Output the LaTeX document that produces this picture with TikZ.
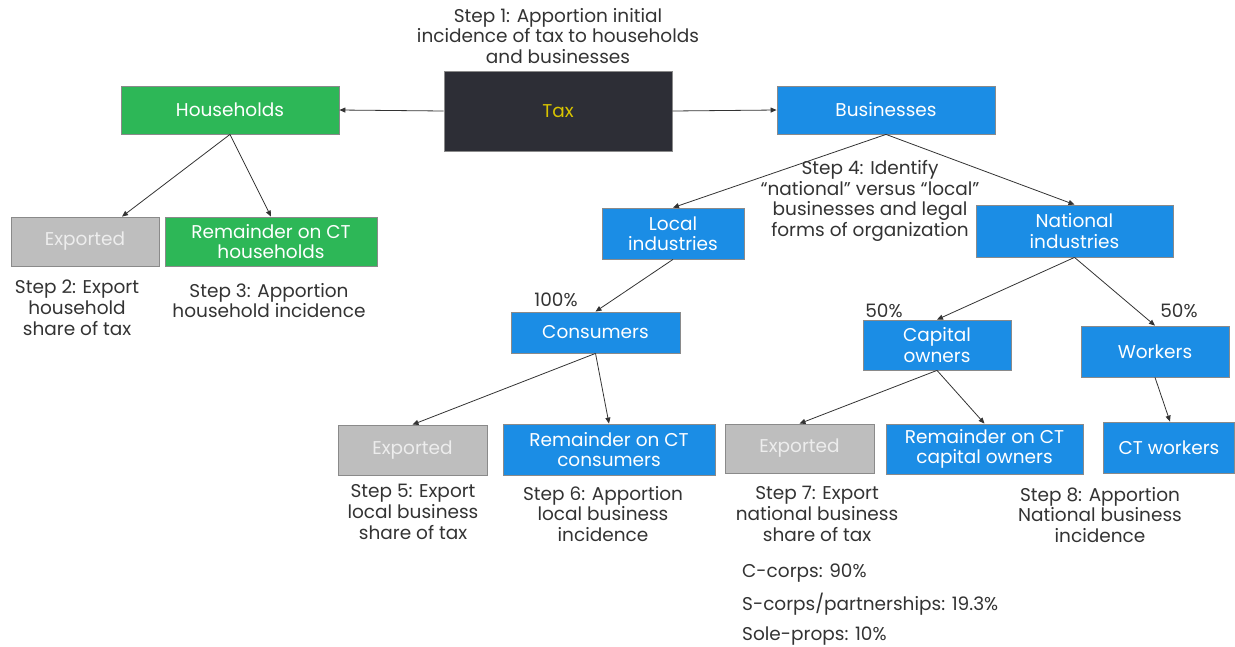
\documentclass[tikz,border=0pt]{standalone}
\usepackage{fontspec}
\setmainfont{Poppins}
\usetikzlibrary{arrows.meta}
\definecolor{cgreen}{HTML}{2DB757}
\definecolor{cblue}{HTML}{1B8DE5}
\definecolor{cgray}{HTML}{BEBEBE}
\definecolor{cdark}{HTML}{2D2E36}
\definecolor{cyel}{HTML}{D9C400}
\definecolor{ctext}{HTML}{333333}
\definecolor{cedge}{HTML}{8A8A8A}
\begin{document}
\begin{tikzpicture}[x=1pt,y=-1pt,
  sz/.style 2 args={minimum width=#1, minimum height=#2},
  box/.style={draw=cedge, line width=0.8pt, inner sep=0pt, align=center, text=white,
    font=\fontsize{18.5}{20.5}\selectfont},
  greenbox/.style={box, fill=cgreen},
  bluebox/.style={box, fill=cblue},
  graybox/.style={box, fill=cgray, text=white!93!black},
  lbl/.style={align=center, text=ctext, inner sep=0pt, font=\fontsize{18.5}{20.8}\selectfont},
  arr/.style={draw=ctext, line width=0.8pt, -{Triangle[length=6pt,width=5pt]}}]
\useasboundingbox (0,0) rectangle (1235,646);
% boxes
\node[box, fill=cdark, text=cyel, sz={228}{80}] (tax) at (558,111) {Tax};
\node[greenbox, sz={218}{48}] (hh) at (230,110) {Households};
\node[bluebox, sz={218}{48}] (bus) at (886,110) {Businesses};
\node[graybox, sz={148}{49}] (exh) at (85,241.5) {Exported};
\node[greenbox, sz={212}{49}] (remh) at (271,241.5) {Remainder on CT\\households};
\node[bluebox, sz={142}{51}] (loc) at (673,233.5) {Local\\industries};
\node[bluebox, sz={197}{52}] (nat) at (1074.5,231) {National\\industries};
\node[bluebox, sz={169}{41}] (cons) at (595.5,332.5) {Consumers};
\node[bluebox, sz={148}{50}] (cap) at (937,345) {Capital\\owners};
\node[bluebox, sz={148}{51}] (work) at (1155,351.5) {Workers};
\node[graybox, sz={149}{50}] (exc) at (412.5,450) {Exported};
\node[bluebox, sz={212}{51}] (remc) at (609,449.5) {Remainder on CT\\consumers};
\node[graybox, sz={149}{49}] (exn) at (799.5,448.5) {Exported};
\node[bluebox, sz={197}{50}] (remn) at (984.5,449) {Remainder on CT\\capital owners};
\node[bluebox, sz={131}{51}] (ctw) at (1169,447.5) {CT workers};
% labels
\node[lbl] (s1) at (558,36) {Step 1: Apportion initial\\incidence of tax to households\\and businesses};
\node[lbl] (s2) at (77,308) {Step 2: Export\\household\\share of tax};
\node[lbl] (s3) at (269,300.5) {Step 3: Apportion\\household incidence};
\node[lbl] (s4) at (870,201) {Step 4: Identify\\“national” versus “local”\\businesses and legal\\forms of organization};
\node[lbl] (s5) at (413,512) {Step 5: Export\\local business\\share of tax};
\node[lbl] (s6) at (603,514) {Step 6: Apportion\\local business\\incidence};
\node[lbl] (s7) at (817,514) {Step 7: Export\\national business\\share of tax};
\node[lbl] (s8) at (1100,515) {Step 8: Apportion\\National business\\incidence};
\node[lbl] (p100) at (556,300) {100\%};
\node[lbl] (p50a) at (884,311) {50\%};
\node[lbl] (p50b) at (1179,311) {50\%};
\node[lbl, anchor=west] (cc) at (742,573) {C-corps: 90\%};
\node[lbl, anchor=west] (sc) at (742,604) {S-corps/partnerships: 19.3\%};
\node[lbl, anchor=west] (sp) at (742,636) {Sole-props: 10\%};
% connectors
\draw[arr] (tax.west) -- (hh.east);
\draw[arr] (tax.east) -- (bus.west);
\draw[arr] (hh.south) -- ([xshift=37pt]exh.north);
\draw[arr] (hh.south) -- (remh.north);
\draw[arr] (bus.south) -- (loc.north);
\draw[arr] (bus.south) -- (nat.north);
\draw[arr] (loc.south) -- (cons.north);
\draw[arr] (nat.south) -- (cap.north);
\draw[arr] (nat.south) -- (work.north);
\draw[arr] (cons.south) -- (exc.north);
\draw[arr] (cons.south) -- (remc.north);
\draw[arr] (cap.south) -- (exn.north);
\draw[arr] (cap.south) -- (remn.north);
\draw[arr] (work.south) -- ([xshift=1pt]ctw.north);
\end{tikzpicture}
\end{document}
